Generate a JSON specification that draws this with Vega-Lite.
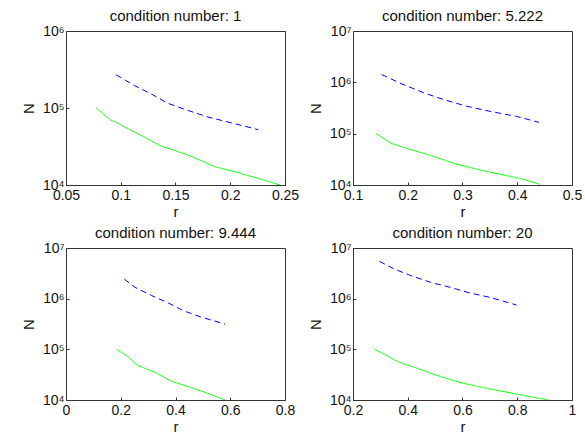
{
  "$schema": "https://vega.github.io/schema/vega-lite/v6.json",
  "background": "white",
  "padding": {"left": 20, "top": 8, "right": 5, "bottom": 2},
  "config": {
    "font": "Liberation Sans",
    "view": {"stroke": "#333333", "strokeWidth": 1},
    "axis": {
      "grid": false,
      "domain": false,
      "labelFont": "Liberation Sans",
      "labelFontSize": 14,
      "labelColor": "#111111",
      "titleFont": "Liberation Sans",
      "titleFontSize": 15,
      "titleFontWeight": "normal",
      "titleColor": "#111111",
      "tickColor": "#333333",
      "labelFlush": false,
      "labelOverlap": false
    },
    "title": {"font": "Liberation Sans", "fontSize": 15, "fontWeight": "normal", "color": "#111111", "offset": 0, "dy": 4},
    "line": {"strokeWidth": 1}
  },
  "datasets": {
    "curves": [
      {"panel": 1, "series": "lower", "r": 0.0775, "N": 100000},
      {"panel": 1, "series": "lower", "r": 0.0912, "N": 69000},
      {"panel": 1, "series": "lower", "r": 0.0958, "N": 65600},
      {"panel": 1, "series": "lower", "r": 0.1034, "N": 56600},
      {"panel": 1, "series": "lower", "r": 0.1156, "N": 46400},
      {"panel": 1, "series": "lower", "r": 0.137, "N": 32000},
      {"panel": 1, "series": "lower", "r": 0.1615, "N": 24500},
      {"panel": 1, "series": "lower", "r": 0.186, "N": 17300},
      {"panel": 1, "series": "lower", "r": 0.204, "N": 14900},
      {"panel": 1, "series": "lower", "r": 0.2286, "N": 11800},
      {"panel": 1, "series": "lower", "r": 0.2454, "N": 10000},
      {"panel": 1, "series": "upper", "r": 0.0958, "N": 270000},
      {"panel": 1, "series": "upper", "r": 0.1126, "N": 195000},
      {"panel": 1, "series": "upper", "r": 0.1279, "N": 152000},
      {"panel": 1, "series": "upper", "r": 0.1431, "N": 115000},
      {"panel": 1, "series": "upper", "r": 0.1615, "N": 92800},
      {"panel": 1, "series": "upper", "r": 0.1798, "N": 76200},
      {"panel": 1, "series": "upper", "r": 0.2042, "N": 62500},
      {"panel": 1, "series": "upper", "r": 0.2256, "N": 52300},

      {"panel": 2, "series": "lower", "r": 0.1422, "N": 100000},
      {"panel": 2, "series": "lower", "r": 0.1694, "N": 65300},
      {"panel": 2, "series": "lower", "r": 0.1965, "N": 52100},
      {"panel": 2, "series": "lower", "r": 0.2237, "N": 42900},
      {"panel": 2, "series": "lower", "r": 0.2538, "N": 34300},
      {"panel": 2, "series": "lower", "r": 0.284, "N": 26500},
      {"panel": 2, "series": "lower", "r": 0.3262, "N": 20300},
      {"panel": 2, "series": "lower", "r": 0.3745, "N": 15700},
      {"panel": 2, "series": "lower", "r": 0.4107, "N": 13000},
      {"panel": 2, "series": "lower", "r": 0.4409, "N": 10300},
      {"panel": 2, "series": "upper", "r": 0.1525, "N": 1420000},
      {"panel": 2, "series": "upper", "r": 0.1875, "N": 948000},
      {"panel": 2, "series": "upper", "r": 0.2297, "N": 622000},
      {"panel": 2, "series": "upper", "r": 0.2659, "N": 460000},
      {"panel": 2, "series": "upper", "r": 0.3081, "N": 341000},
      {"panel": 2, "series": "upper", "r": 0.3504, "N": 272000},
      {"panel": 2, "series": "upper", "r": 0.3986, "N": 217000},
      {"panel": 2, "series": "upper", "r": 0.4396, "N": 166000},

      {"panel": 3, "series": "lower", "r": 0.185, "N": 100000},
      {"panel": 3, "series": "lower", "r": 0.2216, "N": 75000},
      {"panel": 3, "series": "lower", "r": 0.264, "N": 47700},
      {"panel": 3, "series": "lower", "r": 0.325, "N": 35200},
      {"panel": 3, "series": "lower", "r": 0.386, "N": 23400},
      {"panel": 3, "series": "lower", "r": 0.435, "N": 19200},
      {"panel": 3, "series": "lower", "r": 0.496, "N": 15000},
      {"panel": 3, "series": "lower", "r": 0.544, "N": 12000},
      {"panel": 3, "series": "lower", "r": 0.581, "N": 10000},
      {"panel": 3, "series": "upper", "r": 0.213, "N": 2440000},
      {"panel": 3, "series": "upper", "r": 0.252, "N": 1670000},
      {"panel": 3, "series": "upper", "r": 0.313, "N": 1150000},
      {"panel": 3, "series": "upper", "r": 0.374, "N": 821000},
      {"panel": 3, "series": "upper", "r": 0.4286, "N": 579000},
      {"panel": 3, "series": "upper", "r": 0.496, "N": 428000},
      {"panel": 3, "series": "upper", "r": 0.581, "N": 316000},

      {"panel": 4, "series": "lower", "r": 0.2784, "N": 100000},
      {"panel": 4, "series": "lower", "r": 0.3086, "N": 83000},
      {"panel": 4, "series": "lower", "r": 0.3629, "N": 57200},
      {"panel": 4, "series": "lower", "r": 0.4353, "N": 42200},
      {"panel": 4, "series": "lower", "r": 0.5198, "N": 28900},
      {"panel": 4, "series": "lower", "r": 0.604, "N": 21300},
      {"panel": 4, "series": "lower", "r": 0.7008, "N": 16500},
      {"panel": 4, "series": "lower", "r": 0.7973, "N": 13100},
      {"panel": 4, "series": "lower", "r": 0.8817, "N": 10800},
      {"panel": 4, "series": "lower", "r": 0.915, "N": 10000},
      {"panel": 4, "series": "upper", "r": 0.2965, "N": 5460000},
      {"panel": 4, "series": "upper", "r": 0.3509, "N": 3850000},
      {"panel": 4, "series": "upper", "r": 0.4112, "N": 2850000},
      {"panel": 4, "series": "upper", "r": 0.4836, "N": 2100000},
      {"panel": 4, "series": "upper", "r": 0.556, "N": 1670000},
      {"panel": 4, "series": "upper", "r": 0.6284, "N": 1290000},
      {"panel": 4, "series": "upper", "r": 0.7008, "N": 1060000},
      {"panel": 4, "series": "upper", "r": 0.797, "N": 750000}
    ]
  },
  "columns": 2,
  "spacing": {"column": 68, "row": 63},
  "bounds": "flush",
  "concat": [
    {
      "title": "condition number: 1",
      "width": 219, "height": 154,
      "data": {"name": "curves"},
      "transform": [{"filter": "datum.panel == 1"}],
      "mark": {"type": "line", "clip": true},
      "encoding": {
        "x": {"field": "r", "type": "quantitative", "title": "r",
              "scale": {"domain": [0.05, 0.25], "nice": false, "zero": false},
              "axis": {"values": [0.05, 0.1, 0.15, 0.2, 0.25], "format": "~g", "tickSize": -3, "labelPadding": 6, "titlePadding": 2}},
        "y": {"field": "N", "type": "quantitative", "title": "N",
              "scale": {"type": "log", "domain": [10000, 1000000], "nice": false},
              "axis": {"values": [10000, 100000, 1000000], "labelExpr": "datum.value == 10000 ? '10⁴' : datum.value == 100000 ? '10⁵' : datum.value == 1000000 ? '10⁶' : '10⁷'", "tickSize": -3, "labelPadding": 5, "titlePadding": 6}},
        "color": {"field": "series", "type": "nominal", "legend": null, "scale": {"domain": ["upper", "lower"], "range": ["#0000ff", "#00ff00"]}},
        "strokeDash": {"field": "series", "type": "nominal", "legend": null, "scale": {"domain": ["upper", "lower"], "range": [[6, 4], [1, 0]]}}
      }
    },
    {
      "title": "condition number: 5.222",
      "width": 219, "height": 154,
      "data": {"name": "curves"},
      "transform": [{"filter": "datum.panel == 2"}],
      "mark": {"type": "line", "clip": true},
      "encoding": {
        "x": {"field": "r", "type": "quantitative", "title": "r",
              "scale": {"domain": [0.1, 0.5], "nice": false, "zero": false},
              "axis": {"values": [0.1, 0.2, 0.3, 0.4, 0.5], "format": "~g", "tickSize": -3, "labelPadding": 6, "titlePadding": 2}},
        "y": {"field": "N", "type": "quantitative", "title": "N",
              "scale": {"type": "log", "domain": [10000, 10000000], "nice": false},
              "axis": {"values": [10000, 100000, 1000000, 10000000], "labelExpr": "datum.value == 10000 ? '10⁴' : datum.value == 100000 ? '10⁵' : datum.value == 1000000 ? '10⁶' : '10⁷'", "tickSize": -3, "labelPadding": 5, "titlePadding": 6}},
        "color": {"field": "series", "type": "nominal", "legend": null, "scale": {"domain": ["upper", "lower"], "range": ["#0000ff", "#00ff00"]}},
        "strokeDash": {"field": "series", "type": "nominal", "legend": null, "scale": {"domain": ["upper", "lower"], "range": [[6, 4], [1, 0]]}}
      }
    },
    {
      "title": "condition number: 9.444",
      "width": 219, "height": 152,
      "data": {"name": "curves"},
      "transform": [{"filter": "datum.panel == 3"}],
      "mark": {"type": "line", "clip": true},
      "encoding": {
        "x": {"field": "r", "type": "quantitative", "title": "r",
              "scale": {"domain": [0, 0.8], "nice": false, "zero": false},
              "axis": {"values": [0, 0.2, 0.4, 0.6, 0.8], "format": "~g", "tickSize": -3, "labelPadding": 6, "titlePadding": 2}},
        "y": {"field": "N", "type": "quantitative", "title": "N",
              "scale": {"type": "log", "domain": [10000, 10000000], "nice": false},
              "axis": {"values": [10000, 100000, 1000000, 10000000], "labelExpr": "datum.value == 10000 ? '10⁴' : datum.value == 100000 ? '10⁵' : datum.value == 1000000 ? '10⁶' : '10⁷'", "tickSize": -3, "labelPadding": 5, "titlePadding": 6}},
        "color": {"field": "series", "type": "nominal", "legend": null, "scale": {"domain": ["upper", "lower"], "range": ["#0000ff", "#00ff00"]}},
        "strokeDash": {"field": "series", "type": "nominal", "legend": null, "scale": {"domain": ["upper", "lower"], "range": [[6, 4], [1, 0]]}}
      }
    },
    {
      "title": "condition number: 20",
      "width": 219, "height": 152,
      "data": {"name": "curves"},
      "transform": [{"filter": "datum.panel == 4"}],
      "mark": {"type": "line", "clip": true},
      "encoding": {
        "x": {"field": "r", "type": "quantitative", "title": "r",
              "scale": {"domain": [0.2, 1], "nice": false, "zero": false},
              "axis": {"values": [0.2, 0.4, 0.6, 0.8, 1], "format": "~g", "tickSize": -3, "labelPadding": 6, "titlePadding": 2}},
        "y": {"field": "N", "type": "quantitative", "title": "N",
              "scale": {"type": "log", "domain": [10000, 10000000], "nice": false},
              "axis": {"values": [10000, 100000, 1000000, 10000000], "labelExpr": "datum.value == 10000 ? '10⁴' : datum.value == 100000 ? '10⁵' : datum.value == 1000000 ? '10⁶' : '10⁷'", "tickSize": -3, "labelPadding": 5, "titlePadding": 6}},
        "color": {"field": "series", "type": "nominal", "legend": null, "scale": {"domain": ["upper", "lower"], "range": ["#0000ff", "#00ff00"]}},
        "strokeDash": {"field": "series", "type": "nominal", "legend": null, "scale": {"domain": ["upper", "lower"], "range": [[6, 4], [1, 0]]}}
      }
    }
  ]
}
